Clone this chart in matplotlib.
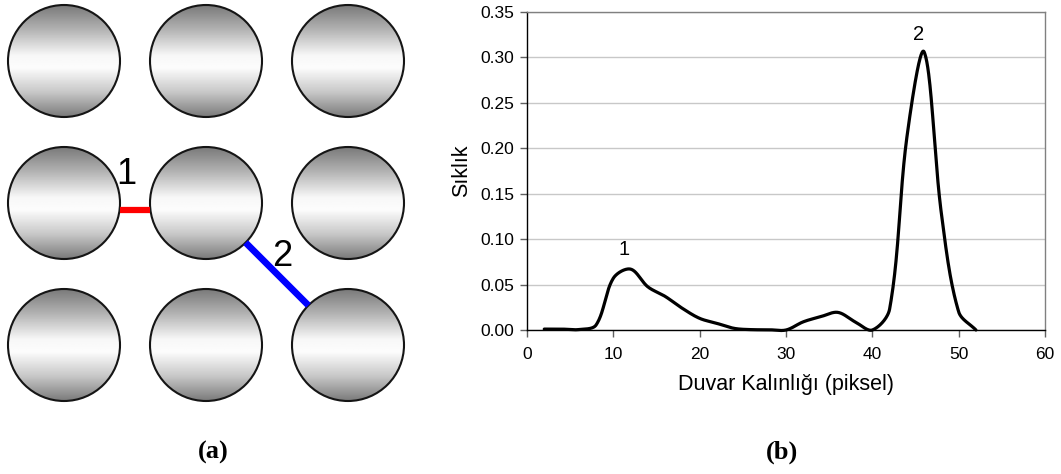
import numpy as np
import matplotlib
matplotlib.use("Agg")
import matplotlib.pyplot as plt
from matplotlib.patches import Circle
from matplotlib.ticker import FormatStrFormatter

# Wall-thickness distribution (even pixel steps)
thickness = [2, 4, 6, 8, 10, 12, 14, 16, 18, 20, 22, 24, 26,
             28, 30, 32, 34, 36, 38, 40, 42, 44, 46, 48, 50, 52]
frequency = [0.001, 0.001, 0.0005, 0.0055, 0.057, 0.067, 0.0475, 0.037,
             0.0238, 0.0128, 0.0073, 0.0018, 0.0004, 0.0003, 0.0, 0.009,
             0.0146, 0.0194, 0.009, 0.0, 0.023, 0.212, 0.306, 0.128,
             0.020, 0.0]
peak_labels = ["1", "2"]
peak_label_pos = [(11.2, 0.0885), (45.4, 0.3255)]
x_ticks = [0, 10, 20, 30, 40, 50, 60]
y_ticks = [0.00, 0.05, 0.10, 0.15, 0.20, 0.25, 0.30, 0.35]
x_label = "Duvar Kalınlığı (piksel)"
y_label = "Sıklık"
panel_labels = ["(a)", "(b)"]

W, H = 1061, 474
fig = plt.figure(figsize=(W / 100, H / 100), dpi=100)

# ---------------- panel (a): 3x3 grid of shaded discs ----------------
axa = fig.add_axes([0, 0, 1, 1])
axa.set_xlim(0, W)
axa.set_ylim(H, 0)
axa.axis("off")

col_x = [64, 206, 348]
row_y = [61, 203, 345]
R = 56

# vertical grey-white-grey shading
t = np.linspace(0, 1, 256)
stops_t = [0.0, 0.2, 0.45, 0.56, 0.78, 1.0]
stops_v = [0.48, 0.68, 0.97, 0.99, 0.78, 0.48]
shade = np.interp(t, stops_t, stops_v)
grad = np.repeat(shade[:, None], 2, axis=1)

for cy in row_y:
    for cx in col_x:
        im = axa.imshow(grad, cmap="gray", vmin=0, vmax=1,
                        extent=[cx - R, cx + R, cy + R, cy - R],
                        interpolation="bilinear", zorder=1)
        clip = Circle((cx, cy), R, transform=axa.transData)
        im.set_clip_path(clip)
        axa.add_patch(Circle((cx, cy), R, fill=False, ec="#151515",
                             lw=1.5, zorder=2))

# red horizontal gap between neighbours
dy = 7
dx = np.sqrt(R**2 - dy**2)
axa.plot([col_x[0] + dx, col_x[1] - dx], [row_y[1] + dy, row_y[1] + dy],
         color="#ff0000", lw=4.5, solid_capstyle="butt", zorder=3)
# blue diagonal gap
d = R / np.sqrt(2)
axa.plot([col_x[1] + d, col_x[2] - d], [row_y[1] + d, row_y[2] - d],
         color="#0000ff", lw=4.8, solid_capstyle="butt", zorder=3)

num_font = dict(family="Liberation Sans", fontsize=26, color="black")
axa.text(126, 174, "1", ha="center", va="center", zorder=4, **num_font)
axa.text(282, 256, "2", ha="center", va="center", zorder=4, **num_font)

fig.text(213 / W, 1 - 452 / H, panel_labels[0], ha="center", va="center",
         family="Liberation Serif", fontweight="bold", fontsize=19)
fig.text(782 / W, 1 - 452 / H, panel_labels[1], ha="center", va="center",
         family="Liberation Serif", fontweight="bold", fontsize=19)

# ---------------- panel (b): distribution curve ----------------
ax_l, ax_r, ax_t, ax_b = 527, 1045, 12, 330
axb = fig.add_axes([ax_l / W, 1 - ax_b / H, (ax_r - ax_l) / W,
                    (ax_b - ax_t) / H])
x_min, x_max, y_min, y_max = 0, 60, 0, 0.35


def smooth_curve(xs, ys, sx, sy, n=40):
    """Bezier smoothing through every point; handle lengths are
    weighted by neighbouring segment lengths in screen space."""
    p = np.column_stack([np.asarray(xs) * sx, np.asarray(ys) * sy])
    p_ext = np.vstack([p[0], p, p[-1]])
    out = []
    for i in range(1, len(p_ext) - 2):
        p0, p1, p2, p3 = p_ext[i - 1], p_ext[i], p_ext[i + 1], p_ext[i + 2]
        d01 = np.linalg.norm(p1 - p0)
        d12 = np.linalg.norm(p2 - p1)
        d23 = np.linalg.norm(p3 - p2)
        f1 = d12 / (d01 + d12) if d01 + d12 > 0 else 0
        f2 = d12 / (d12 + d23) if d12 + d23 > 0 else 0
        c1 = p1 + (p2 - p0) * f1 / 3.0
        c2 = p2 - (p3 - p1) * f2 / 3.0
        s = np.linspace(0, 1, n)[:, None]
        seg = ((1 - s) ** 3) * p1 + 3 * ((1 - s) ** 2) * s * c1 \
            + 3 * (1 - s) * s ** 2 * c2 + s ** 3 * p2
        out.append(seg if i == 1 else seg[1:])
    seg = np.vstack(out)
    return seg[:, 0] / sx, seg[:, 1] / sy


px_per_x = (ax_r - ax_l) / (x_max - x_min)
px_per_y = (ax_b - ax_t) / (y_max - y_min)
cx_, cy_ = smooth_curve(thickness, frequency, px_per_x, px_per_y)
axb.plot(cx_, cy_, color="black", lw=2.3, solid_joinstyle="round",
         solid_capstyle="round", zorder=3, clip_on=False)

axb.set_xlim(x_min, x_max)
axb.set_ylim(y_min, y_max)
axb.set_xticks(x_ticks)
axb.set_yticks(y_ticks)
axb.yaxis.set_major_formatter(FormatStrFormatter("%.2f"))
axb.grid(axis="y", color="#c8c8c8", lw=1.0, zorder=0)
axb.set_axisbelow(True)

for side in ("top", "right"):
    axb.spines[side].set_color("#808080")
    axb.spines[side].set_linewidth(1.0)
for side in ("left", "bottom"):
    axb.spines[side].set_color("black")
    axb.spines[side].set_linewidth(1.0)

tick_font = "Liberation Sans"
axb.tick_params(axis="both", direction="out", length=5, width=1,
                color="#606060", labelsize=12.5, pad=4)
axb.tick_params(axis="x", pad=7)
for lab in axb.get_xticklabels() + axb.get_yticklabels():
    lab.set_family(tick_font)

axb.set_xlabel(x_label, family=tick_font, fontsize=15.5, labelpad=9)
axb.set_ylabel(y_label, family=tick_font, fontsize=15.5, labelpad=6)

for lab, (px, py) in zip(peak_labels, peak_label_pos):
    axb.text(px, py, lab, ha="center", va="center", family=tick_font,
             fontsize=14.5)

fig.savefig("out.png", dpi=100)
